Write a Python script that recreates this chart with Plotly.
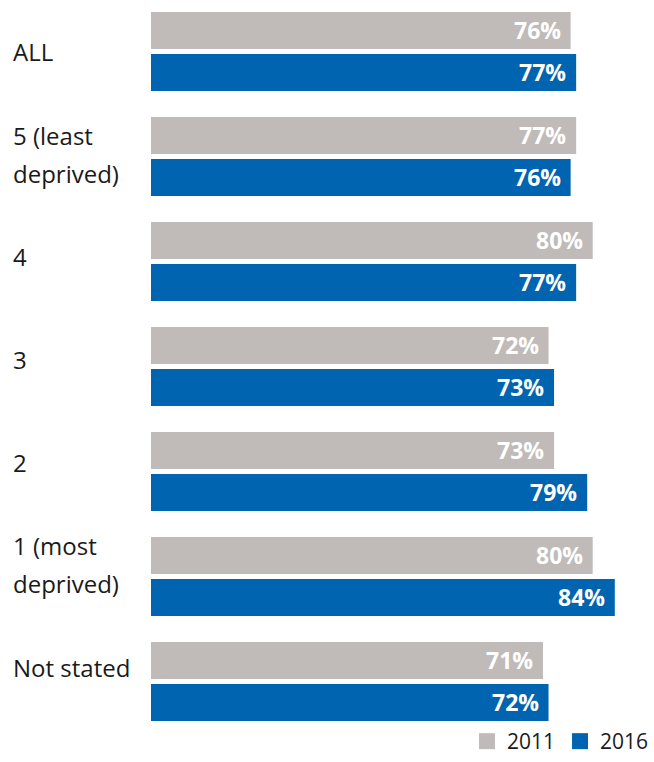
import plotly.graph_objects as go

categories = ["ALL", "5 (least<br>deprived)", "4", "3", "2", "1 (most<br>deprived)", "Not stated"]
values_2011 = [76, 77, 80, 72, 73, 80, 71]
values_2016 = [77, 76, 77, 73, 79, 84, 72]
series_names = ["2011", "2016"]

GREY = "#C0BBB8"
BLUE = "#0064B0"
FONT = "Open Sans, sans-serif"
BARGAP = 0.2

fig = go.Figure()
series = [(series_names[0], values_2011, GREY, -1), (series_names[1], values_2016, BLUE, 1)]
for name, vals, col, side in series:
    fig.add_trace(go.Bar(
        y=list(range(len(categories))), x=vals, name=name, orientation="h",
        marker=dict(color=col, line=dict(width=0)),
        textposition="none", hoverinfo="skip", showlegend=False,
    ))
    off = side * (1 - BARGAP) / 4
    for i, v in enumerate(vals):
        fig.add_annotation(
            x=v, xref="x", y=i + off, yref="y", text=f"<b>{v}%</b>", showarrow=False,
            xanchor="right", yanchor="middle", xshift=-8,
            font=dict(size=23, family=FONT, color="white"),
        )

# legend entries with larger square swatches
for name, vals, col, side in series:
    fig.add_trace(go.Scatter(
        x=[None], y=[None], mode="markers", name=name,
        marker=dict(symbol="square", size=16, color=col, line=dict(width=0)),
        hoverinfo="skip",
    ))

for i, c in enumerate(categories):
    lines = c.split("<br>")
    n = len(lines)
    for k, line in enumerate(lines):
        fig.add_annotation(
            x=-0.279, xref="paper", y=i, yref="y", text=line, showarrow=False,
            xanchor="left", align="left", yanchor="middle",
            yshift=-(k - (n - 1) / 2) * 38 + 2.3 * i,
            font=dict(size=24, family=FONT, color="#1a1a1a"),
        )

fig.update_layout(
    width=654, height=762,
    margin=dict(l=151, r=0, t=0, b=0),
    barmode="group", bargap=BARGAP, bargroupgap=0.119,
    plot_bgcolor="white", paper_bgcolor="white",
    showlegend=True,
    legend=dict(orientation="h", x=1.0, xanchor="right",
                y=0.0, yanchor="bottom",
                font=dict(size=21, family=FONT, color="#1a1a1a"),
                itemwidth=30, tracegroupgap=0, bgcolor="rgba(0,0,0,0)"),
    xaxis=dict(range=[0, 91.1], visible=False, fixedrange=True),
    yaxis=dict(range=[6.767, -0.49], showticklabels=False, showgrid=False, zeroline=False,
               tickmode="array", tickvals=list(range(len(categories)))),
)

fig.write_html("out.html")
